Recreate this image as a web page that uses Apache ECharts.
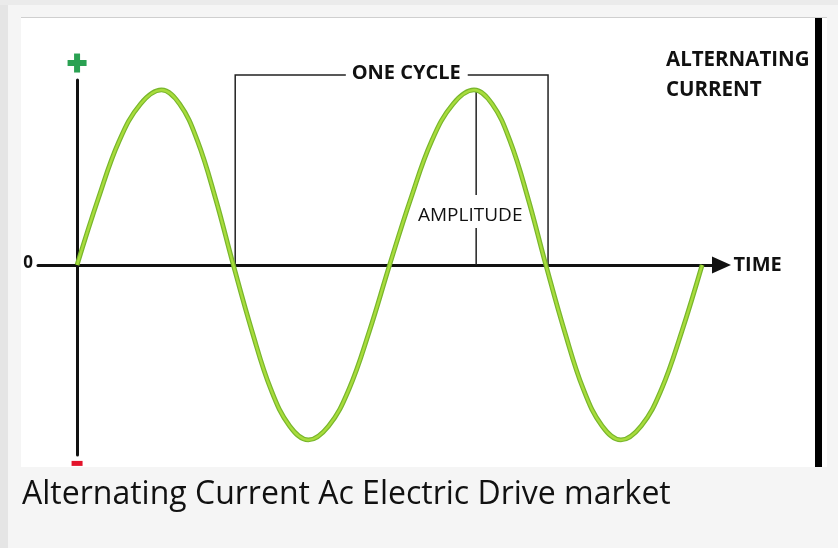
<!DOCTYPE html>
<html>
<head>
<meta charset="utf-8">
<title>Alternating Current</title>
<script src="https://cdn.jsdelivr.net/npm/echarts/dist/echarts.min.js"></script>
<style>
  html, body { margin: 0; padding: 0; }
  body { width: 838px; height: 548px; background: #f5f5f5; position: relative; overflow: hidden; font-family: 'Open Sans', sans-serif; }
  .topband { position: absolute; left: 0; top: 0; width: 838px; height: 5px; background: #ebebeb; }
  .leftband { position: absolute; left: 0; top: 5px; width: 8px; height: 543px; background: #e5e5e5; }
  .picture { position: absolute; left: 21px; top: 17px; width: 806px; height: 449px; background: #fff; border-top: 1px solid #cfcfcf; }
  .rightbar { position: absolute; left: 815px; top: 18px; width: 7px; height: 449px; background: #000; }
  #chart { position: absolute; left: 0; top: 0; width: 838px; height: 548px; }
  .caption { position: absolute; left: 22px; top: 472px; font-size: 32px; line-height: 40px; color: #111; white-space: nowrap; }
</style>
</head>
<body>
<div class="topband"></div>
<div class="leftband"></div>
<div class="picture"></div>
<div class="rightbar"></div>
<div id="chart"></div>
<div class="caption">Alternating Current Ac Electric Drive market</div>
<script>
// time in cycles, current as a fraction of the amplitude
const timeCycles = [0, 0.068, 0.135, 0.203, 0.27, 0.328, 0.385, 0.443, 0.5,
  0.56, 0.62, 0.68, 0.74, 0.805, 0.87, 0.935, 1.0,
  1.068, 1.135, 1.203, 1.27, 1.328, 1.385, 1.443, 1.5,
  1.56, 1.62, 1.68, 1.74, 1.805, 1.87, 1.935, 2.0];
const currentVals = [0, 0.38, 0.71, 0.92, 1, 0.92, 0.71, 0.38, 0,
  -0.38, -0.71, -0.92, -1, -0.92, -0.71, -0.38, 0,
  0.38, 0.71, 0.92, 1, 0.92, 0.71, 0.38, 0,
  -0.38, -0.71, -0.92, -1, -0.92, -0.71, -0.38, 0];

// annotation anchors, in the same units
const cycleEdges = [0.506, 1.507];
const cycleTop = 1.086;
const cycleGap = [0.86, 1.25];
const cycleLabelAt = [1.053, 1.094];
const amplitudeX = 1.277;
const amplitudeGap = [0.211, 0.4];
const amplitudeLabelAt = [1.258, 0.283];
const plusAt = [0, 1.154];
const minusAt = [0, -1.134];
const zeroLabelAt = [-0.157, 0.013];

const wave = timeCycles.map((t, i) => [t, currentVals[i]]);

const chart = echarts.init(document.getElementById('chart'), null, { renderer: 'canvas' });

chart.setOption({
  animation: false,
  grid: { left: 38, right: 116.5, top: 80, bottom: 93, containLabel: false, outerBoundsMode: 'none' },
  xAxis: {
    type: 'value',
    min: -0.125,
    max: 2.062,
    name: 'TIME',
    nameLocation: 'end',
    nameGap: 12,
    nameTextStyle: { color: '#111', fontFamily: 'Open Sans', fontWeight: 'bold', fontSize: 20, verticalAlign: 'middle' },
    axisLine: { onZero: true, symbol: ['none', 'triangle'], symbolSize: [17, 19], lineStyle: { color: '#111', width: 3 } },
    axisTick: { show: false },
    axisLabel: { show: false },
    splitLine: { show: false }
  },
  yAxis: {
    type: 'value',
    min: -1.086,
    max: 1.057,
    axisLine: { onZero: true, lineStyle: { color: '#111', width: 3 } },
    axisTick: { show: false },
    axisLabel: { show: false },
    splitLine: { show: false }
  },
  series: [
    {
      type: 'line',
      data: wave,
      smooth: 0.4,
      showSymbol: false,
      silent: true,
      lineStyle: { color: '#78b62c', width: 4.8 }
    },
    {
      type: 'line',
      data: wave,
      smooth: 0.4,
      showSymbol: false,
      silent: true,
      lineStyle: { color: '#a8dc3c', width: 2.4 }
    }
  ]
});

const px = (pt) => chart.convertToPixel({ gridIndex: 0 }, pt);
const thin = { stroke: '#222', lineWidth: 1.5, fill: null };

const leftDrop = px([cycleEdges[0], 0]);
const leftTop = px([cycleEdges[0], cycleTop]);
const gapL = px([cycleGap[0], cycleTop]);
const gapR = px([cycleGap[1], cycleTop]);
const rightTop = px([cycleEdges[1], cycleTop]);
const rightDrop = px([cycleEdges[1], 0]);
const ampTop = px([amplitudeX, 1]);
const ampGapHi = px([amplitudeX, amplitudeGap[1]]);
const ampGapLo = px([amplitudeX, amplitudeGap[0]]);
const ampBase = px([amplitudeX, 0]);
const cycleLbl = px(cycleLabelAt);
const ampLbl = px(amplitudeLabelAt);
const plus = px(plusAt);
const minus = px(minusAt);
const zeroLbl = px(zeroLabelAt);

chart.setOption({
  graphic: [
    { type: 'polyline', silent: true, z: 1, shape: { points: [leftDrop, leftTop, gapL] }, style: thin },
    { type: 'polyline', silent: true, z: 1, shape: { points: [gapR, rightTop, rightDrop] }, style: thin },
    { type: 'line', silent: true, z: 1, shape: { x1: ampTop[0], y1: ampTop[1], x2: ampGapHi[0], y2: ampGapHi[1] }, style: thin },
    { type: 'line', silent: true, z: 1, shape: { x1: ampGapLo[0], y1: ampGapLo[1], x2: ampBase[0], y2: ampBase[1] }, style: thin },
    {
      type: 'text', silent: true, x: cycleLbl[0], y: cycleLbl[1],
      style: { text: 'ONE CYCLE', fontFamily: 'Open Sans', fontWeight: 'bold', fontSize: 20, fill: '#111', align: 'center', verticalAlign: 'middle' }
    },
    {
      type: 'text', silent: true, x: ampLbl[0], y: ampLbl[1],
      style: { text: 'AMPLITUDE', fontFamily: 'Open Sans', fontSize: 19, fill: '#111', align: 'center', verticalAlign: 'middle' }
    },
    {
      type: 'text', silent: true, x: zeroLbl[0], y: zeroLbl[1],
      style: { text: '0', fontFamily: 'Open Sans', fontWeight: 'bold', fontSize: 17, fill: '#111', align: 'center', verticalAlign: 'middle' }
    },
    { type: 'rect', silent: true, shape: { x: plus[0] - 9.5, y: plus[1] - 3, width: 19, height: 6 }, style: { fill: '#2aa152' } },
    { type: 'rect', silent: true, shape: { x: plus[0] - 3, y: plus[1] - 9.5, width: 6, height: 19 }, style: { fill: '#2aa152' } },
    { type: 'rect', silent: true, shape: { x: minus[0] - 5.5, y: minus[1] - 2.5, width: 11, height: 5 }, style: { fill: '#e3142b' } },
    {
      type: 'text', silent: true, x: 666, y: 60,
      style: { text: 'ALTERNATING', fontFamily: 'Open Sans', fontWeight: 'bold', fontSize: 20.5, fill: '#111', align: 'left', verticalAlign: 'middle' }
    },
    {
      type: 'text', silent: true, x: 666, y: 90,
      style: { text: 'CURRENT', fontFamily: 'Open Sans', fontWeight: 'bold', fontSize: 20.5, fill: '#111', align: 'left', verticalAlign: 'middle' }
    }
  ]
});
</script>
</body>
</html>
